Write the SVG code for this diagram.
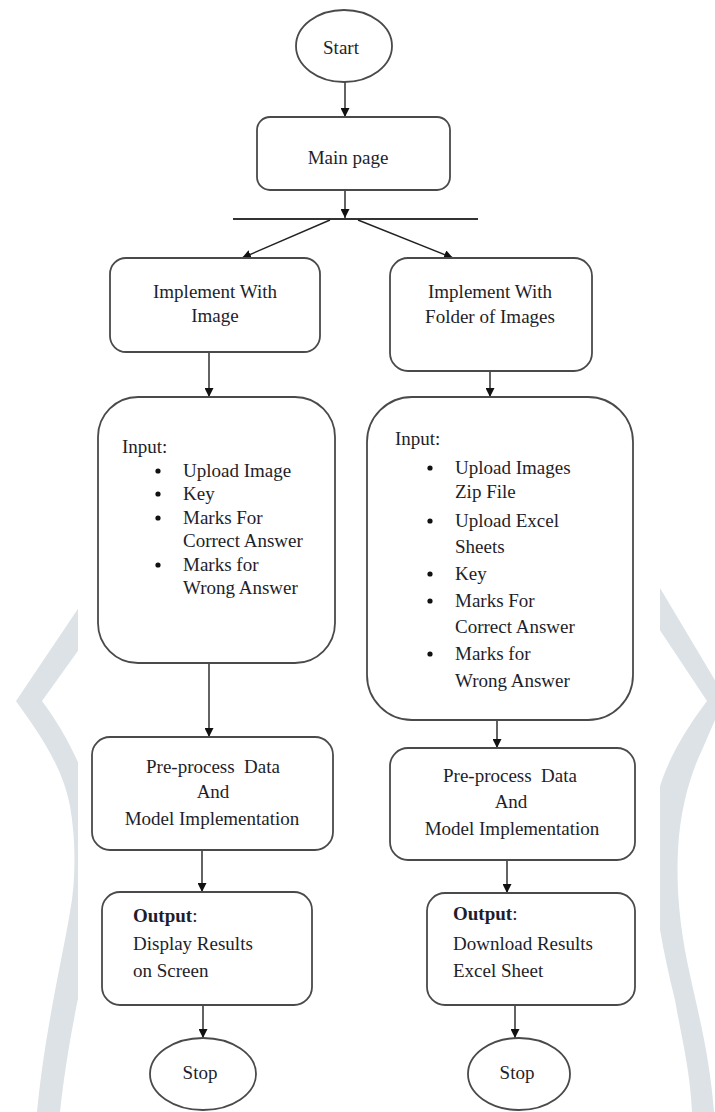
<svg xmlns="http://www.w3.org/2000/svg" width="715" height="1112" viewBox="0 0 715 1112">
<defs>
<style>
.box{fill:#fff;stroke:#4a4a4a;stroke-width:1.8}
.ln{fill:none;stroke:#222;stroke-width:1.4}
.t{font-family:"Liberation Serif","Times New Roman",serif;font-size:19px;fill:#1e1e2a}
.c{text-anchor:middle}
.b{font-weight:bold}
.wm{fill:#dce2e6}
.pre{white-space:pre}
</style>
<marker id="ah" viewBox="0 0 10 10" refX="10" refY="5" markerWidth="9" markerHeight="9" markerUnits="userSpaceOnUse" orient="auto">
<path d="M0,0 L10,5 L0,10 Z" fill="#111"/>
</marker>
<clipPath id="cl"><rect x="0" y="0" width="78" height="1112"/></clipPath>
<clipPath id="cr"><rect x="660" y="0" width="60" height="1112"/></clipPath>
</defs>
<rect width="715" height="1112" fill="#fff"/>
<g id="watermark">
<path class="wm" clip-path="url(#cl)" d="M110,561 L16,701 C40,735 62,765 70,806 C76,840 76,880 70,912 C62,960 45,1030 37,1112 L60,1112 C68,1040 80,990 88,950 C95,900 95,830 88,790 C80,760 60,725 42,701 L110,606 Z"/>
<path class="wm" clip-path="url(#cr)" d="M620,521 L725,697 L702,750 C690,775 680,810 678,850 C676,890 680,930 690,975 C700,1020 710,1060 714,1112 L692,1112 C690,1070 682,1040 675,1000 C660,940 650,880 652,830 C654,790 670,750 707,701 L620,570 Z"/>
</g>
<g id="connectors">
<line class="ln" x1="345" y1="82" x2="345" y2="117" marker-end="url(#ah)"/>
<line class="ln" x1="345" y1="190" x2="345" y2="218" marker-end="url(#ah)"/>
<line x1="233" y1="219" x2="478" y2="219" stroke="#333" stroke-width="2"/>
<line class="ln" x1="330" y1="220" x2="242" y2="258" marker-end="url(#ah)"/>
<line class="ln" x1="358" y1="220" x2="453" y2="258" marker-end="url(#ah)"/>
<line class="ln" x1="209" y1="352" x2="209" y2="397" marker-end="url(#ah)"/>
<line class="ln" x1="490" y1="371" x2="490" y2="397" marker-end="url(#ah)"/>
<line class="ln" x1="209" y1="663" x2="209" y2="737" marker-end="url(#ah)"/>
<line class="ln" x1="497" y1="720" x2="497" y2="748" marker-end="url(#ah)"/>
<line class="ln" x1="202" y1="850" x2="202" y2="892" marker-end="url(#ah)"/>
<line class="ln" x1="507" y1="860" x2="507" y2="893" marker-end="url(#ah)"/>
<line class="ln" x1="203" y1="1005" x2="203" y2="1038" marker-end="url(#ah)"/>
<line class="ln" x1="515" y1="1005" x2="515" y2="1038" marker-end="url(#ah)"/>
</g>
<g id="start">
<ellipse class="box" cx="344" cy="46" rx="48" ry="36"/>
<text class="t c" x="341" y="54">Start</text>
</g>
<g id="main-page">
<rect class="box" x="257" y="117" width="193" height="73" rx="13"/>
<text class="t c" x="348" y="164">Main page</text>
</g>
<g id="implement-image">
<rect class="box" x="110" y="258" width="210" height="94" rx="16"/>
<text class="t c" x="215" y="298">Implement With</text>
<text class="t c" x="215" y="322">Image</text>
</g>
<g id="implement-folder">
<rect class="box" x="390" y="258" width="202" height="113" rx="18"/>
<text class="t c" x="490" y="298">Implement With</text>
<text class="t c" x="490" y="323">Folder of Images</text>
</g>
<g id="input-left">
<rect class="box" x="98" y="397" width="237" height="266" rx="40"/>
<text class="t" x="122" y="453">Input:</text>
<g fill="#111">
<circle cx="158" cy="471" r="2.6"/>
<circle cx="158" cy="494" r="2.6"/>
<circle cx="158" cy="518" r="2.6"/>
<circle cx="158" cy="565" r="2.6"/>
</g>
<text class="t" x="183" y="477">Upload Image</text>
<text class="t" x="183" y="500">Key</text>
<text class="t" x="183" y="524">Marks For</text>
<text class="t" x="183" y="547">Correct  Answer</text>
<text class="t" x="183" y="571">Marks for</text>
<text class="t" x="183" y="594">Wrong Answer</text>
</g>
<g id="input-right">
<rect class="box" x="367" y="397" width="266" height="323" rx="45"/>
<text class="t" x="395" y="445">Input:</text>
<g fill="#111">
<circle cx="430" cy="468" r="2.6"/>
<circle cx="430" cy="521" r="2.6"/>
<circle cx="430" cy="574" r="2.6"/>
<circle cx="430" cy="601" r="2.6"/>
<circle cx="430" cy="654" r="2.6"/>
</g>
<text class="t" x="455" y="474">Upload Images</text>
<text class="t" x="455" y="498">Zip File</text>
<text class="t" x="455" y="527">Upload Excel</text>
<text class="t" x="455" y="553">Sheets</text>
<text class="t" x="455" y="580">Key</text>
<text class="t" x="455" y="607">Marks For</text>
<text class="t" x="455" y="633">Correct  Answer</text>
<text class="t" x="455" y="660">Marks for</text>
<text class="t" x="455" y="687">Wrong Answer</text>
</g>
<g id="preprocess-left">
<rect class="box" x="92" y="737" width="241" height="113" rx="18"/>
<text class="t c pre" x="213" y="773">Pre-process  Data</text>
<text class="t c" x="213" y="798">And</text>
<text class="t c" x="212" y="825">Model Implementation</text>
</g>
<g id="preprocess-right">
<rect class="box" x="390" y="748" width="245" height="112" rx="18"/>
<text class="t c pre" x="510" y="782">Pre-process  Data</text>
<text class="t c" x="511" y="808">And</text>
<text class="t c" x="512" y="835">Model Implementation</text>
</g>
<g id="output-left">
<rect class="box" x="102" y="892" width="210" height="113" rx="18"/>
<text class="t" x="133" y="922"><tspan class="b">Output</tspan>:</text>
<text class="t" x="133" y="950">Display Results</text>
<text class="t" x="133" y="977">on Screen</text>
</g>
<g id="output-right">
<rect class="box" x="427" y="893" width="208" height="112" rx="18"/>
<text class="t" x="453" y="920"><tspan class="b">Output</tspan>:</text>
<text class="t" x="453" y="950">Download Results</text>
<text class="t" x="453" y="977">Excel Sheet</text>
</g>
<g id="stop-left">
<ellipse class="box" cx="203" cy="1074" rx="53" ry="36"/>
<text class="t c" x="200" y="1079">Stop</text>
</g>
<g id="stop-right">
<ellipse class="box" cx="519" cy="1074" rx="51" ry="36"/>
<text class="t c" x="517" y="1079">Stop</text>
</g>
</svg>
